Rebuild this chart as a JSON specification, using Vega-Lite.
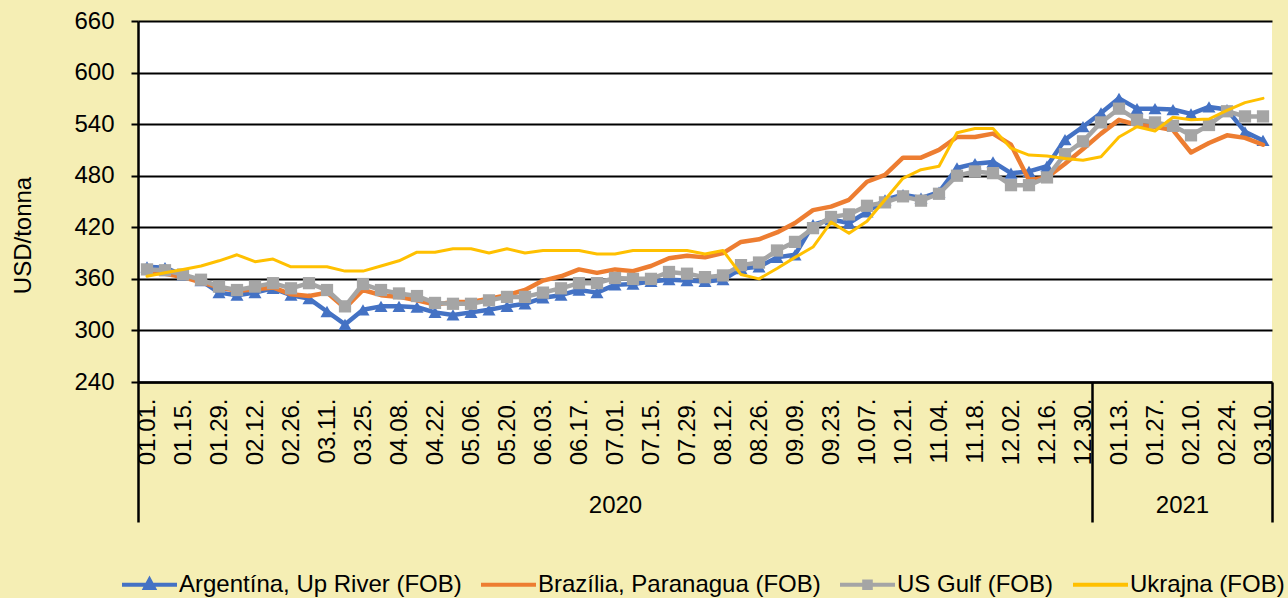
{
  "$schema": "https://vega.github.io/schema/vega-lite/v6.json",
  "autosize": {"type": "none"},
  "width": 1134,
  "height": 361,
  "padding": {"left": 138, "top": 21, "right": 16, "bottom": 216},
  "background": "#F5EEB4",
  "config": {
    "font": "Liberation Sans",
    "view": {"fill": "white", "stroke": null}
  },
  "resolve": {"scale": {"x": "independent"}, "axis": {"x": "independent"}},
  "layer": [
    {
      "data": {"values": [
        {"year": "2020", "start": 0, "end": 53},
        {"year": "2021", "start": 53, "end": 63}
      ]},
      "mark": {"type": "rect", "opacity": 0},
      "encoding": {
        "x": {
          "field": "start", "type": "quantitative",
          "scale": {"domain": [0, 63], "nice": false, "zero": false},
          "axis": {
            "orient": "bottom",
            "values": [0, 26.5, 53, 58, 63],
            "domain": false, "grid": false, "title": null,
            "tickSize": 140, "tickWidth": 2.5,
            "tickColor": {"condition": {"test": "datum.value === 26.5 || datum.value === 58", "value": "transparent"}, "value": "#000000"},
            "labelExpr": "datum.value === 26.5 ? '2020' : (datum.value === 58 ? '2021' : '')",
            "labelFontSize": 24, "labelColor": "#000000", "labelAngle": 0,
            "labelBaseline": "top", "labelPadding": -29,
            "labelOverlap": false, "labelFlush": false, "labelBound": false
          }
        },
        "x2": {"field": "end"}
      }
    },
    {
      "data": {"values": [
        {"date": "2020-01-01", "Argentína, Up River (FOB)": 374, "Brazília, Paranagua (FOB)": 368, "US Gulf (FOB)": 371, "Ukrajna (FOB)": 363},
        {"date": "2020-01-08", "Argentína, Up River (FOB)": 373, "Brazília, Paranagua (FOB)": 366, "US Gulf (FOB)": 370, "Ukrajna (FOB)": 367},
        {"date": "2020-01-15", "Argentína, Up River (FOB)": 364, "Brazília, Paranagua (FOB)": 362, "US Gulf (FOB)": 365, "Ukrajna (FOB)": 371},
        {"date": "2020-01-22", "Argentína, Up River (FOB)": 358, "Brazília, Paranagua (FOB)": 356, "US Gulf (FOB)": 359, "Ukrajna (FOB)": 375},
        {"date": "2020-01-29", "Argentína, Up River (FOB)": 344, "Brazília, Paranagua (FOB)": 350, "US Gulf (FOB)": 351, "Ukrajna (FOB)": 381},
        {"date": "2020-02-05", "Argentína, Up River (FOB)": 341, "Brazília, Paranagua (FOB)": 346, "US Gulf (FOB)": 347, "Ukrajna (FOB)": 388},
        {"date": "2020-02-12", "Argentína, Up River (FOB)": 344, "Brazília, Paranagua (FOB)": 348, "US Gulf (FOB)": 351, "Ukrajna (FOB)": 380},
        {"date": "2020-02-19", "Argentína, Up River (FOB)": 349, "Brazília, Paranagua (FOB)": 350, "US Gulf (FOB)": 355, "Ukrajna (FOB)": 383},
        {"date": "2020-02-26", "Argentína, Up River (FOB)": 341, "Brazília, Paranagua (FOB)": 342, "US Gulf (FOB)": 349, "Ukrajna (FOB)": 374},
        {"date": "2020-03-04", "Argentína, Up River (FOB)": 337, "Brazília, Paranagua (FOB)": 340, "US Gulf (FOB)": 355, "Ukrajna (FOB)": 374},
        {"date": "2020-03-11", "Argentína, Up River (FOB)": 322, "Brazília, Paranagua (FOB)": 344, "US Gulf (FOB)": 347, "Ukrajna (FOB)": 374},
        {"date": "2020-03-18", "Argentína, Up River (FOB)": 307, "Brazília, Paranagua (FOB)": 326, "US Gulf (FOB)": 328, "Ukrajna (FOB)": 369},
        {"date": "2020-03-25", "Argentína, Up River (FOB)": 324, "Brazília, Paranagua (FOB)": 347, "US Gulf (FOB)": 354, "Ukrajna (FOB)": 369},
        {"date": "2020-04-01", "Argentína, Up River (FOB)": 328, "Brazília, Paranagua (FOB)": 341, "US Gulf (FOB)": 347, "Ukrajna (FOB)": 375},
        {"date": "2020-04-08", "Argentína, Up River (FOB)": 328, "Brazília, Paranagua (FOB)": 339, "US Gulf (FOB)": 343, "Ukrajna (FOB)": 381},
        {"date": "2020-04-15", "Argentína, Up River (FOB)": 327, "Brazília, Paranagua (FOB)": 335, "US Gulf (FOB)": 340, "Ukrajna (FOB)": 391},
        {"date": "2020-04-22", "Argentína, Up River (FOB)": 321, "Brazília, Paranagua (FOB)": 330, "US Gulf (FOB)": 332, "Ukrajna (FOB)": 391},
        {"date": "2020-04-29", "Argentína, Up River (FOB)": 318, "Brazília, Paranagua (FOB)": 333, "US Gulf (FOB)": 331, "Ukrajna (FOB)": 395},
        {"date": "2020-05-06", "Argentína, Up River (FOB)": 321, "Brazília, Paranagua (FOB)": 333, "US Gulf (FOB)": 331, "Ukrajna (FOB)": 395},
        {"date": "2020-05-13", "Argentína, Up River (FOB)": 324, "Brazília, Paranagua (FOB)": 337, "US Gulf (FOB)": 335, "Ukrajna (FOB)": 390},
        {"date": "2020-05-20", "Argentína, Up River (FOB)": 328, "Brazília, Paranagua (FOB)": 341, "US Gulf (FOB)": 339, "Ukrajna (FOB)": 395},
        {"date": "2020-05-27", "Argentína, Up River (FOB)": 331, "Brazília, Paranagua (FOB)": 347, "US Gulf (FOB)": 339, "Ukrajna (FOB)": 390},
        {"date": "2020-06-03", "Argentína, Up River (FOB)": 338, "Brazília, Paranagua (FOB)": 358, "US Gulf (FOB)": 344, "Ukrajna (FOB)": 393},
        {"date": "2020-06-10", "Argentína, Up River (FOB)": 341, "Brazília, Paranagua (FOB)": 363, "US Gulf (FOB)": 349, "Ukrajna (FOB)": 393},
        {"date": "2020-06-17", "Argentína, Up River (FOB)": 347, "Brazília, Paranagua (FOB)": 371, "US Gulf (FOB)": 355, "Ukrajna (FOB)": 393},
        {"date": "2020-06-24", "Argentína, Up River (FOB)": 344, "Brazília, Paranagua (FOB)": 367, "US Gulf (FOB)": 355, "Ukrajna (FOB)": 389},
        {"date": "2020-07-01", "Argentína, Up River (FOB)": 353, "Brazília, Paranagua (FOB)": 371, "US Gulf (FOB)": 361, "Ukrajna (FOB)": 389},
        {"date": "2020-07-08", "Argentína, Up River (FOB)": 354, "Brazília, Paranagua (FOB)": 369, "US Gulf (FOB)": 360, "Ukrajna (FOB)": 393},
        {"date": "2020-07-15", "Argentína, Up River (FOB)": 357, "Brazília, Paranagua (FOB)": 375, "US Gulf (FOB)": 360, "Ukrajna (FOB)": 393},
        {"date": "2020-07-22", "Argentína, Up River (FOB)": 359, "Brazília, Paranagua (FOB)": 384, "US Gulf (FOB)": 368, "Ukrajna (FOB)": 393},
        {"date": "2020-07-29", "Argentína, Up River (FOB)": 358, "Brazília, Paranagua (FOB)": 387, "US Gulf (FOB)": 366, "Ukrajna (FOB)": 393},
        {"date": "2020-08-05", "Argentína, Up River (FOB)": 357, "Brazília, Paranagua (FOB)": 385, "US Gulf (FOB)": 362, "Ukrajna (FOB)": 389},
        {"date": "2020-08-12", "Argentína, Up River (FOB)": 359, "Brazília, Paranagua (FOB)": 390, "US Gulf (FOB)": 364, "Ukrajna (FOB)": 393},
        {"date": "2020-08-19", "Argentína, Up River (FOB)": 372, "Brazília, Paranagua (FOB)": 403, "US Gulf (FOB)": 376, "Ukrajna (FOB)": 365},
        {"date": "2020-08-26", "Argentína, Up River (FOB)": 374, "Brazília, Paranagua (FOB)": 406, "US Gulf (FOB)": 379, "Ukrajna (FOB)": 360},
        {"date": "2020-09-02", "Argentína, Up River (FOB)": 385, "Brazília, Paranagua (FOB)": 414, "US Gulf (FOB)": 393, "Ukrajna (FOB)": 372},
        {"date": "2020-09-09", "Argentína, Up River (FOB)": 388, "Brazília, Paranagua (FOB)": 425, "US Gulf (FOB)": 403, "Ukrajna (FOB)": 385},
        {"date": "2020-09-16", "Argentína, Up River (FOB)": 423, "Brazília, Paranagua (FOB)": 440, "US Gulf (FOB)": 419, "Ukrajna (FOB)": 397},
        {"date": "2020-09-23", "Argentína, Up River (FOB)": 429, "Brazília, Paranagua (FOB)": 444, "US Gulf (FOB)": 432, "Ukrajna (FOB)": 426},
        {"date": "2020-09-30", "Argentína, Up River (FOB)": 425, "Brazília, Paranagua (FOB)": 452, "US Gulf (FOB)": 435, "Ukrajna (FOB)": 413},
        {"date": "2020-10-07", "Argentína, Up River (FOB)": 438, "Brazília, Paranagua (FOB)": 473, "US Gulf (FOB)": 445, "Ukrajna (FOB)": 427},
        {"date": "2020-10-14", "Argentína, Up River (FOB)": 452, "Brazília, Paranagua (FOB)": 481, "US Gulf (FOB)": 449, "Ukrajna (FOB)": 452},
        {"date": "2020-10-21", "Argentína, Up River (FOB)": 458, "Brazília, Paranagua (FOB)": 501, "US Gulf (FOB)": 456, "Ukrajna (FOB)": 477},
        {"date": "2020-10-28", "Argentína, Up River (FOB)": 454, "Brazília, Paranagua (FOB)": 501, "US Gulf (FOB)": 451, "Ukrajna (FOB)": 487},
        {"date": "2020-11-04", "Argentína, Up River (FOB)": 461, "Brazília, Paranagua (FOB)": 510, "US Gulf (FOB)": 459, "Ukrajna (FOB)": 491},
        {"date": "2020-11-11", "Argentína, Up River (FOB)": 489, "Brazília, Paranagua (FOB)": 525, "US Gulf (FOB)": 480, "Ukrajna (FOB)": 530},
        {"date": "2020-11-18", "Argentína, Up River (FOB)": 494, "Brazília, Paranagua (FOB)": 525, "US Gulf (FOB)": 485, "Ukrajna (FOB)": 535},
        {"date": "2020-11-25", "Argentína, Up River (FOB)": 496, "Brazília, Paranagua (FOB)": 529, "US Gulf (FOB)": 483, "Ukrajna (FOB)": 535},
        {"date": "2020-12-02", "Argentína, Up River (FOB)": 483, "Brazília, Paranagua (FOB)": 516, "US Gulf (FOB)": 469, "Ukrajna (FOB)": 512},
        {"date": "2020-12-09", "Argentína, Up River (FOB)": 485, "Brazília, Paranagua (FOB)": 475, "US Gulf (FOB)": 469, "Ukrajna (FOB)": 504},
        {"date": "2020-12-16", "Argentína, Up River (FOB)": 491, "Brazília, Paranagua (FOB)": 478, "US Gulf (FOB)": 478, "Ukrajna (FOB)": 503},
        {"date": "2020-12-23", "Argentína, Up River (FOB)": 522, "Brazília, Paranagua (FOB)": 494, "US Gulf (FOB)": 505, "Ukrajna (FOB)": 500},
        {"date": "2020-12-30", "Argentína, Up River (FOB)": 537, "Brazília, Paranagua (FOB)": 511, "US Gulf (FOB)": 520, "Ukrajna (FOB)": 498},
        {"date": "2021-01-06", "Argentína, Up River (FOB)": 553, "Brazília, Paranagua (FOB)": 529, "US Gulf (FOB)": 542, "Ukrajna (FOB)": 502},
        {"date": "2021-01-13", "Argentína, Up River (FOB)": 570, "Brazília, Paranagua (FOB)": 545, "US Gulf (FOB)": 558, "Ukrajna (FOB)": 525},
        {"date": "2021-01-20", "Argentína, Up River (FOB)": 558, "Brazília, Paranagua (FOB)": 539, "US Gulf (FOB)": 545, "Ukrajna (FOB)": 537},
        {"date": "2021-01-27", "Argentína, Up River (FOB)": 558, "Brazília, Paranagua (FOB)": 537, "US Gulf (FOB)": 542, "Ukrajna (FOB)": 532},
        {"date": "2021-02-03", "Argentína, Up River (FOB)": 557, "Brazília, Paranagua (FOB)": 533, "US Gulf (FOB)": 538, "Ukrajna (FOB)": 548},
        {"date": "2021-02-10", "Argentína, Up River (FOB)": 552, "Brazília, Paranagua (FOB)": 507, "US Gulf (FOB)": 527, "Ukrajna (FOB)": 545},
        {"date": "2021-02-17", "Argentína, Up River (FOB)": 560, "Brazília, Paranagua (FOB)": 518, "US Gulf (FOB)": 539, "Ukrajna (FOB)": 546},
        {"date": "2021-02-24", "Argentína, Up River (FOB)": 557, "Brazília, Paranagua (FOB)": 527, "US Gulf (FOB)": 555, "Ukrajna (FOB)": 556},
        {"date": "2021-03-03", "Argentína, Up River (FOB)": 531, "Brazília, Paranagua (FOB)": 524, "US Gulf (FOB)": 549, "Ukrajna (FOB)": 565},
        {"date": "2021-03-10", "Argentína, Up River (FOB)": 521, "Brazília, Paranagua (FOB)": 516, "US Gulf (FOB)": 549, "Ukrajna (FOB)": 570}
      ]},
      "transform": [
        {"fold": ["Argentína, Up River (FOB)", "Brazília, Paranagua (FOB)", "US Gulf (FOB)", "Ukrajna (FOB)"], "as": ["series", "value"]}
      ],
      "encoding": {
        "x": {
          "field": "date", "type": "ordinal",
          "scale": {"type": "point", "padding": 0.5},
          "axis": {
            "orient": "bottom",
            "values": ["2020-01-01", "2020-01-15", "2020-01-29", "2020-02-12", "2020-02-26", "2020-03-11", "2020-03-25", "2020-04-08", "2020-04-22", "2020-05-06", "2020-05-20", "2020-06-03", "2020-06-17", "2020-07-01", "2020-07-15", "2020-07-29", "2020-08-12", "2020-08-26", "2020-09-09", "2020-09-23", "2020-10-07", "2020-10-21", "2020-11-04", "2020-11-18", "2020-12-02", "2020-12-16", "2020-12-30", "2021-01-13", "2021-01-27", "2021-02-10", "2021-02-24", "2021-03-10"],
            "labelExpr": "substring(datum.value, 5, 7) + '.' + substring(datum.value, 8, 10) + '.'",
            "labelAngle": -90, "labelFontSize": 24, "labelColor": "#000000",
            "labelPadding": 16, "labelOverlap": false, "labelFlush": false, "labelBound": false,
            "ticks": false, "grid": false, "title": null,
            "domainColor": "#000000", "domainWidth": 2.5
          }
        },
        "y": {
          "field": "value", "type": "quantitative",
          "scale": {"domain": [240, 660], "nice": false, "zero": false},
          "axis": {
            "values": [240, 300, 360, 420, 480, 540, 600, 660],
            "grid": true, "gridColor": "#000000", "gridWidth": 2,
            "domainColor": "#000000", "domainWidth": 2.5,
            "tickColor": "#000000", "tickSize": 7, "tickWidth": 2,
            "labelFontSize": 24, "labelPadding": 17, "labelColor": "#000000",
            "title": "USD/tonna", "titleFontSize": 24, "titleFontWeight": "normal", "titleColor": "#000000",
            "titleAngle": -90, "titleX": -115, "titleY": 214, "titleBaseline": "middle", "titleAlign": "center"
          }
        }
      },
      "layer": [
        {
          "transform": [{"filter": {"field": "series", "equal": "Argentína, Up River (FOB)"}}],
          "mark": {"type": "line", "color": "#4472C4", "strokeWidth": 4.5, "strokeJoin": "round", "strokeCap": "round"}
        },
        {
          "transform": [{"filter": {"field": "series", "equal": "Argentína, Up River (FOB)"}}],
          "mark": {"type": "point", "shape": "triangle-up", "filled": true, "color": "#4472C4", "size": 170, "opacity": 1}
        },
        {
          "transform": [{"filter": {"field": "series", "equal": "Brazília, Paranagua (FOB)"}}],
          "mark": {"type": "line", "color": "#ED7D31", "strokeWidth": 4.5, "strokeJoin": "round", "strokeCap": "round"}
        },
        {
          "transform": [{"filter": {"field": "series", "equal": "US Gulf (FOB)"}}],
          "mark": {"type": "line", "color": "#A5A5A5", "strokeWidth": 4.5, "strokeJoin": "round", "strokeCap": "round"}
        },
        {
          "transform": [{"filter": {"field": "series", "equal": "US Gulf (FOB)"}}],
          "mark": {"type": "point", "shape": "square", "filled": true, "color": "#A5A5A5", "size": 150, "opacity": 1}
        },
        {
          "transform": [{"filter": {"field": "series", "equal": "Ukrajna (FOB)"}}],
          "mark": {"type": "line", "color": "#FFC000", "strokeWidth": 3, "strokeJoin": "round", "strokeCap": "round"}
        },
        {
          "transform": [{"filter": "false"}],
          "mark": {"type": "point", "filled": false, "strokeWidth": 4, "opacity": 1},
          "encoding": {
            "color": {
              "field": "series", "type": "nominal",
              "scale": {"domain": ["Argentína, Up River (FOB)", "Brazília, Paranagua (FOB)", "US Gulf (FOB)", "Ukrajna (FOB)"], "range": ["#4472C4", "#ED7D31", "#A5A5A5", "#FFC000"]},
              "legend": {
                "orient": "none", "direction": "horizontal", "columns": 4,
                "legendX": -18, "legendY": 534,
                "title": null,
                "labelFontSize": 24, "labelColor": "#000000", "labelLimit": 500,
                "labelOffset": 0, "columnPadding": 11,
                "symbolSize": 3025, "symbolStrokeWidth": 4,
                "encode": {
                  "symbols": {
                    "update": {
                      "shape": {"scale": "shape", "field": "value"},
                      "strokeWidth": {"value": 4},
                      "size": {"value": 3025},
                      "opacity": {"value": 1}
                    }
                  }
                }
              }
            },
            "shape": {
              "field": "series", "type": "nominal",
              "scale": {"domain": ["Argentína, Up River (FOB)", "Brazília, Paranagua (FOB)", "US Gulf (FOB)", "Ukrajna (FOB)"], "range": ["M-1,0H1M-0.16,0.12L0,-0.18L0.16,0.12Z", "M-1,0H1", "M-1,0H1M-0.12,-0.12H0.12V0.12H-0.12Z", "M-1,0H1"]},
              "legend": null
            }
          }
        }
      ]
    }
  ]
}
